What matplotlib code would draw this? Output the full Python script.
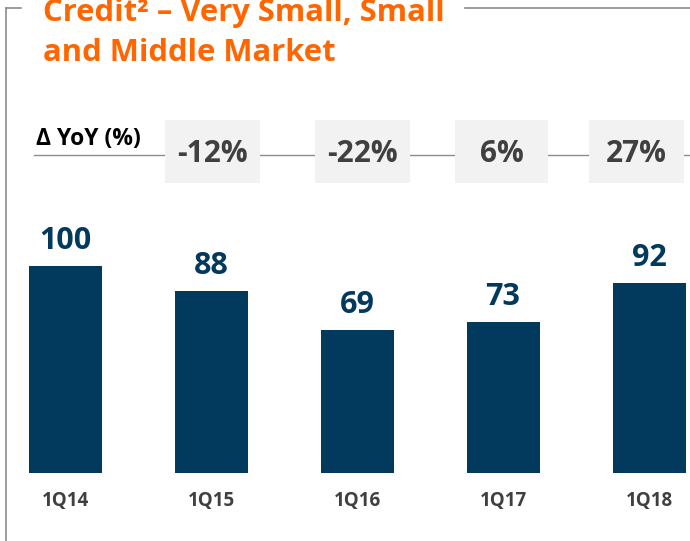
import matplotlib
matplotlib.use("Agg")
import matplotlib.pyplot as plt
from matplotlib.patches import Rectangle
from matplotlib.lines import Line2D

categories = ["1Q14", "1Q15", "1Q16", "1Q17", "1Q18"]
values = [100, 88, 69, 73, 92]
yoy_labels = ["-12%", "-22%", "6%", "27%"]
title_lines = ["Credit² – Very Small, Small", "and Middle Market"]

W, H = 690, 541
fig = plt.figure(figsize=(W / 100, H / 100), dpi=100)
plt.rcParams['font.family'] = ["Open Sans", 'DejaVu Sans']

def fx(px):
    return px / W

def fy(py):
    return 1 - py / H

navy = "#023A5E"
orange = "#FF6600"
gray_txt = "#404040"
line_gray = "#8C8C8C"

# Bars axis: centers at 65 + 146*i px, baseline at y=473 px, 2.07 px per unit
ax = fig.add_axes([0, 0, 1, 1])
x0, step, base, scale = 65, 146, 473, 2.07
ax.set_xlim(-x0 / step, (W - x0) / step)
ax.set_ylim(-(H - base) / scale, base / scale)
ax.axis("off")
xs = list(range(len(categories)))
ax.bar(xs, values, width=0.5, color=navy, zorder=3)
for x, v in zip(xs, values):
    ax.annotate(str(v), (x, v), xytext=(0, 7), textcoords="offset points",
                ha="center", va="bottom", fontsize=22, fontweight="bold", color=navy)
for x, c in zip(xs, categories):
    ax.annotate(c, (x, 0), xytext=(0, -20), textcoords="offset points",
                ha="center", va="center", fontsize=13.5, fontweight="bold", color=gray_txt)

# frame
fig.add_artist(Line2D([fx(6), fx(6)], [fy(8), fy(541)], color=line_gray, lw=1.2))
fig.add_artist(Line2D([fx(6), fx(21)], [fy(8), fy(8)], color=line_gray, lw=1.2))
fig.add_artist(Line2D([fx(465), fx(690)], [fy(8), fy(8)], color=line_gray, lw=1.2))

# title
fig.text(fx(43), fy(21), title_lines[0], color=orange, fontsize=22.3, fontweight="bold",
         ha="left", va="baseline")
fig.text(fx(43), fy(61), title_lines[1], color=orange, fontsize=22.3, fontweight="bold",
         ha="left", va="baseline")

# YoY row
fig.text(fx(36), fy(145), "Δ YoY (%)", color="black", fontsize=16.5, fontweight="bold",
         ha="left", va="baseline")
fig.add_artist(Line2D([fx(34), fx(690)], [fy(155), fy(155)], color=line_gray, lw=1.0, zorder=5))
box_x = [(165, 260), (315, 410), (455, 548), (589, 684)]
for (a, b), lab in zip(box_x, yoy_labels):
    fig.add_artist(Rectangle((fx(a), fy(183)), fx(b - a), (183 - 120) / H,
                             facecolor="#F2F2F2", edgecolor="none", zorder=6))
    fig.text(fx((a + b) / 2), fy(154), lab, color=gray_txt, fontsize=21.5, fontweight="bold",
             ha="center", va="center", zorder=7)

fig.savefig("out.png", dpi=100)
